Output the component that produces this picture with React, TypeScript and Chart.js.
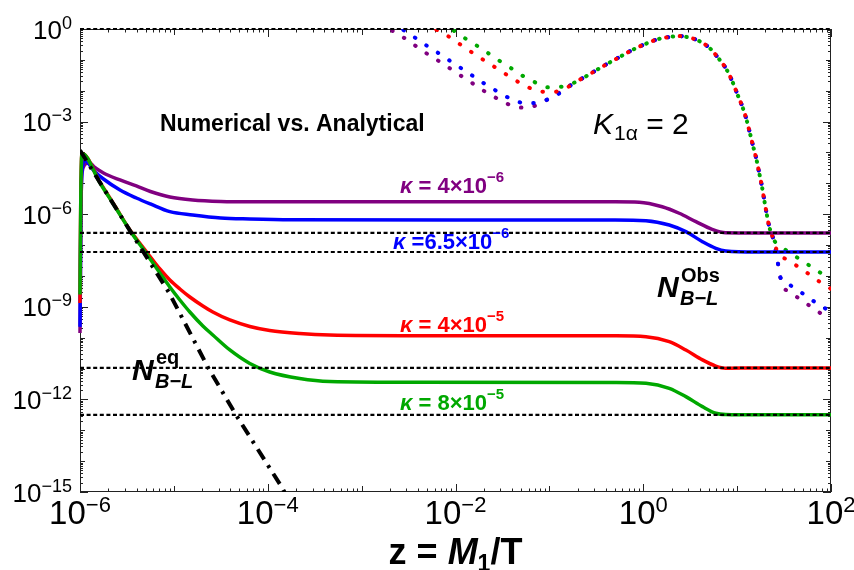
import React, { useEffect, useRef } from "react";
import { Chart, registerables } from "chart.js";

Chart.register(...registerables);

// ---------- axes ----------
const X_MIN = 1e-6;
const X_MAX = 1e2;
const Y_MIN = 1e-15;
const Y_MAX = 1;
const xLabelExps = [-6, -4, -2, 0, 2];
const yLabelExps = [0, -3, -6, -9, -12, -15];

// ---------- observed asymptotes (horizontal dotted lines) ----------
const obsLevels = [1, 2.47e-7, 5.97e-8, 1.05e-11, 3.16e-13];

// ---------- numerical solutions: log10 z, log10 N ----------
const purpleLgZ = [-6, -5.995, -5.99, -5.985, -5.975, -5.96, -5.94, -5.894, -5.85, -5.75, -5.574, -5.4, -5.25, -5.043, -4.8, -4.5, -4.191, -3.0, -1.5, -0.3, -0.043, 0.202, 0.383, 0.561, 0.734, 0.879, 1.2, 2.0];
const purpleLgN = [-9.85, -8.0, -6.0, -5.0, -4.6, -4.45, -4.37, -4.34, -4.47, -4.665, -4.891, -5.086, -5.264, -5.442, -5.539, -5.588, -5.6, -5.6, -5.6, -5.6, -5.61, -5.757, -5.97, -6.242, -6.489, -6.599, -6.608, -6.608];

const blueLgZ = [-6, -5.995, -5.99, -5.982, -5.97, -5.947, -5.85, -5.75, -5.574, -5.4, -5.25, -5.043, -4.8, -4.5, -4.191, -3.75, -2.0, -0.3, 0.029, 0.277, 0.454, 0.631, 0.773, 0.879, 1.2, 2.0];
const blueLgN = [-9.65, -7.5, -5.8, -4.8, -4.4, -4.266, -4.6, -4.859, -5.215, -5.475, -5.669, -5.918, -6.025, -6.122, -6.155, -6.181, -6.19, -6.19, -6.21, -6.349, -6.566, -6.89, -7.104, -7.19, -7.224, -7.224];

const redLgZ = [-6, -5.995, -5.99, -5.985, -5.978, -5.787, -5.628, -5.468, -5.29, -5.149, -5.043, -4.936, -4.83, -4.691, -4.585, -4.404, -4.191, -3.979, -3.66, -3.34, -2.383, -0.3, 0.029, 0.277, 0.454, 0.631, 0.773, 0.879, 1.2, 2.0];
const redLgN = [-8.88, -6.5, -5.0, -4.3, -4.03, -4.969, -5.734, -6.511, -7.224, -7.775, -8.131, -8.422, -8.682, -8.973, -9.168, -9.427, -9.637, -9.767, -9.864, -9.913, -9.935, -9.94, -9.968, -10.13, -10.4, -10.72, -10.92, -10.99, -10.98, -10.98];

const greenLgZ = [-6, -5.995, -5.99, -5.985, -5.978, -5.787, -5.628, -5.468, -5.29, -5.149, -5.043, -4.936, -4.83, -4.691, -4.585, -4.404, -4.191, -3.979, -3.66, -3.34, -2.383, -0.3, 0.029, 0.277, 0.454, 0.631, 0.773, 0.879, 1.2, 2.0];
const greenLgN = [-8.6, -6.5, -5.0, -4.3, -4.03, -4.989, -5.75, -6.527, -7.289, -7.904, -8.358, -8.779, -9.168, -9.621, -9.913, -10.399, -10.836, -11.111, -11.322, -11.419, -11.445, -11.45, -11.477, -11.64, -11.91, -12.235, -12.45, -12.49, -12.5, -12.5];

// ---------- equilibrium N_eq (dash-dot) ----------
const eqLgZ = [-6, -5.7, -5.45, -5.05, -4.635, -4.34, -3.851, -3.75];
const eqLgN = [-3.93, -5.4, -6.62, -8.55, -10.972, -12.494, -14.84, -15.4];

// ---------- analytical solutions (dotted) ----------
const purpleAnHeadLgZ = [-2.8, -2.723, -2.596, -2.471, -2.354, -2.234, -2.114, -1.993, -1.872, -1.755, -1.638, -1.503, -1.372, -1.231, -1.096, -0.96, -0.84];
const purpleAnHeadLgN = [0.17, 0.03, -0.194, -0.444, -0.703, -0.93, -1.166, -1.416, -1.652, -1.889, -2.115, -2.332, -2.517, -2.549, -2.407, -2.18, -1.95];
const blueAnHeadLgZ = [-2.68, -2.596, -2.471, -2.354, -2.234, -2.114, -1.993, -1.872, -1.755, -1.638, -1.503, -1.383, -1.248, -1.099, -0.971, -0.848];
const blueAnHeadLgN = [0.19, 0.04, -0.194, -0.444, -0.68, -0.917, -1.166, -1.403, -1.652, -1.869, -2.115, -2.3, -2.407, -2.365, -2.213, -1.999];
const redAnHeadLgZ = [-2.33, -2.245, -2.11, -1.993, -1.876, -1.755, -1.635, -1.514, -1.39, -1.266, -1.135, -0.993, -0.858];
const redAnHeadLgN = [0.19, 0.04, -0.172, -0.411, -0.658, -0.897, -1.134, -1.361, -1.61, -1.824, -1.999, -2.041, -1.976];
const greenAnHeadLgZ = [-2.14, -2.06, -1.993, -1.872, -1.755, -1.635, -1.514, -1.39, -1.269, -1.142, -1.007, -0.865];
const greenAnHeadLgN = [0.19, 0.03, -0.107, -0.356, -0.573, -0.82, -1.069, -1.305, -1.545, -1.74, -1.889, -1.869];

const commonAnLgZ = [-0.727, -0.603, -0.479, -0.354, -0.227, -0.103, 0.029, 0.163, 0.305, 0.376, 0.447, 0.588, 0.71, 0.801, 0.886, 0.95, 1.003, 1.056, 1.099, 1.135, 1.17, 1.205, 1.234, 1.263, 1.287, 1.312, 1.34, 1.383];
const commonAnLgN = [-1.727, -1.523, -1.296, -1.079, -0.865, -0.658, -0.476, -0.324, -0.249, -0.228, -0.249, -0.379, -0.625, -0.949, -1.305, -1.707, -2.115, -2.517, -2.925, -3.359, -3.79, -4.211, -4.642, -5.076, -5.507, -5.938, -6.372, -6.78];

const greenAnTailLgZ = [1.42, 1.482, 1.599, 1.723, 1.844, 1.961, 2.0];
const greenAnTailLgN = [-6.95, -7.085, -7.321, -7.571, -7.807, -8.056, -8.131];
const redAnTailLgZ = [1.41, 1.43, 1.524, 1.649, 1.766, 1.886, 2.0];
const redAnTailLgN = [-7.05, -7.25, -7.46, -7.7, -7.946, -8.205, -8.42];
const blueAnTailLgZ = [1.42, 1.457, 1.5, 1.578, 1.695, 1.812, 1.936, 2.0];
const blueAnTailLgN = [-7.3, -8.0, -8.17, -8.325, -8.562, -8.811, -9.048, -9.17];
const purpleAnTailLgZ = [1.42, 1.46, 1.49, 1.55, 1.631, 1.748, 1.872, 1.986, 2.0];
const purpleAnTailLgN = [-7.3, -8.05, -8.35, -8.5, -8.672, -8.918, -9.177, -9.404, -9.43];

// ---------- colours ----------
const PURPLE = "#800080";
const BLUE = "#0000ff";
const RED = "#ff0000";
const GREEN = "#00a800";

const FONT = '"Liberation Sans", Arial, sans-serif';

const pts = (lz: number[], ln: number[]) => lz.map((v, i) => ({ x: Math.pow(10, v), y: Math.pow(10, ln[i]) }));
const analytic = (hz: number[], hn: number[], tz: number[], tn: number[]) =>
  pts([...hz, ...commonAnLgZ, ...tz], [...hn, ...commonAnLgN, ...tn]);

type Seg = { t: string; font: string; dy?: number; dx?: number };
function rich(ctx: CanvasRenderingContext2D, x: number, y: number, segs: Seg[], align: "left" | "center" | "right", color = "#000") {
  ctx.textAlign = "left";
  ctx.textBaseline = "alphabetic";
  ctx.fillStyle = color;
  let w = 0;
  for (const s of segs) {
    ctx.font = s.font;
    w += ctx.measureText(s.t).width + (s.dx || 0);
  }
  let cx = align === "center" ? x - w / 2 : align === "right" ? x - w : x;
  for (const s of segs) {
    ctx.font = s.font;
    cx += s.dx || 0;
    ctx.fillText(s.t, cx, y + (s.dy || 0));
    cx += ctx.measureText(s.t).width;
  }
}

const expText = (e: number) => (e < 0 ? "\u2212" + String(-e) : String(e));

const framePlugin = {
  id: "mmaFrame",
  beforeDatasetsDraw(chart: any) {
    const { ctx, chartArea: a, scales } = chart;
    const xs = scales.x;
    const ys = scales.y;
    ctx.save();
    ctx.strokeStyle = "#222";
    ctx.lineWidth = 1;
    ctx.strokeRect(a.left + 0.5, a.top + 0.5, a.right - a.left - 1, a.bottom - a.top - 1);
    ctx.beginPath();
    const xe0 = Math.round(Math.log10(X_MIN));
    const xe1 = Math.round(Math.log10(X_MAX));
    for (let e = xe0; e <= xe1; e++) {
      for (let m = 1; m <= 9; m++) {
        if (e === xe1 && m > 1) break;
        const px = Math.round(xs.getPixelForValue(m * Math.pow(10, e))) + 0.5;
        const len = m === 1 ? (xLabelExps.includes(e) ? 8 : 6) : 3.5;
        ctx.moveTo(px, a.bottom);
        ctx.lineTo(px, a.bottom - len);
        ctx.moveTo(px, a.top);
        ctx.lineTo(px, a.top + len);
      }
    }
    const ye0 = Math.round(Math.log10(Y_MIN));
    const ye1 = Math.round(Math.log10(Y_MAX));
    for (let e = ye0; e <= ye1; e++) {
      for (let m = 1; m <= 9; m++) {
        if (e === ye1 && m > 1) break;
        const py = Math.round(ys.getPixelForValue(m * Math.pow(10, e))) + 0.5;
        const len = m === 1 ? (yLabelExps.includes(e) ? 8 : 5) : 3;
        ctx.moveTo(a.left, py);
        ctx.lineTo(a.left + len, py);
        ctx.moveTo(a.right, py);
        ctx.lineTo(a.right - len, py);
      }
    }
    ctx.stroke();

    // tick labels
    for (const e of yLabelExps) {
      const py = ys.getPixelForValue(Math.pow(10, e));
      rich(ctx, a.left - 8, py + 9.5, [
        { t: "10", font: `26px ${FONT}` },
        { t: expText(e), font: `18px ${FONT}`, dy: -10 },
      ], "right");
    }
    for (const e of xLabelExps) {
      const px = xs.getPixelForValue(Math.pow(10, e));
      rich(ctx, px, a.bottom + 32, [
        { t: "10", font: `33px ${FONT}` },
        { t: expText(e), font: `22px ${FONT}`, dy: -12 },
      ], "center");
    }
    // axis title
    rich(ctx, (a.left + a.right) / 2, 564, [
      { t: "z = ", font: `bold 36px ${FONT}` },
      { t: "M", font: `italic bold 36px ${FONT}` },
      { t: "1", font: `bold 23px ${FONT}`, dy: 7 },
      { t: "/T", font: `bold 36px ${FONT}` },
    ], "center");
    ctx.restore();
  },
  afterDatasetsDraw(chart: any) {
    const { ctx } = chart;
    ctx.save();
    rich(ctx, 160, 131, [{ t: "Numerical vs. Analytical", font: `bold 23px ${FONT}` }], "left");
    rich(ctx, 593, 134, [
      { t: "K", font: `italic 30px ${FONT}` },
      { t: "1\u03b1", font: `21px ${FONT}`, dy: 6, dx: 1 },
      { t: " = 2", font: `30px ${FONT}` },
    ], "left");
    const kappa = (x: number, y: number, body: string, exp: string, color: string) =>
      rich(ctx, x, y, [
        { t: "\u03ba", font: `italic bold 22px ${FONT}` },
        { t: body, font: `bold 22px ${FONT}` },
        { t: exp, font: `bold 15px ${FONT}`, dy: -11 },
      ], "left", color);
    kappa(400, 193, " = 4\u00d710", "\u22126", PURPLE);
    kappa(393, 249, " =6.5\u00d710", "\u22126", BLUE);
    kappa(400, 332, " = 4\u00d710", "\u22125", RED);
    kappa(400, 410, " = 8\u00d710", "\u22125", GREEN);

    // N_{B-L}^{Obs}
    rich(ctx, 657, 297, [{ t: "N", font: `italic bold 30px ${FONT}` }], "left");
    rich(ctx, 681, 282, [{ t: "Obs", font: `bold 20px ${FONT}` }], "left");
    rich(ctx, 680, 305, [{ t: "B\u2212L", font: `italic bold 20px ${FONT}` }], "left");
    // N_{B-L}^{eq}
    rich(ctx, 132, 380, [{ t: "N", font: `italic bold 30px ${FONT}` }], "left");
    rich(ctx, 156, 364, [{ t: "eq", font: `bold 20px ${FONT}` }], "left");
    rich(ctx, 155, 388, [{ t: "B\u2212L", font: `italic bold 20px ${FONT}` }], "left");
    ctx.restore();
  },
};

const solid = (label: string, data: any[], color: string, order: number) => ({
  label,
  data,
  borderColor: color,
  borderWidth: 3.5,
  pointRadius: 0,
  cubicInterpolationMode: "monotone" as const,
  order,
  clip: { left: 3, top: 0, right: 0, bottom: 0 },
});

const dotted = (label: string, data: any[], color: string, order: number) => ({
  label,
  data,
  borderColor: color,
  borderWidth: 4,
  borderDash: [0.5, 13.2],
  borderCapStyle: "round" as const,
  pointRadius: 0,
  cubicInterpolationMode: "monotone" as const,
  order,
});

export default function App() {
  const ref = useRef<HTMLCanvasElement>(null);
  useEffect(() => {
    const obsSets = obsLevels.map((v, i) => ({
      label: "obs" + i,
      data: [
        { x: X_MIN, y: v },
        { x: X_MAX, y: v },
      ],
      borderColor: "#000",
      borderWidth: 2.2,
      borderDash: [4, 2.6],
      pointRadius: 0,
      order: 0,
      clip: false as const,
    }));
    const chart = new Chart(ref.current as HTMLCanvasElement, {
      type: "line",
      data: {
        datasets: [
          ...obsSets,
          {
            label: "Neq",
            data: pts(eqLgZ, eqLgN),
            borderColor: "#000",
            borderWidth: 4,
            borderDash: [12, 7, 3, 7],
            pointRadius: 0,
            tension: 0,
            order: 1,
          },
          solid("k8e-5", pts(greenLgZ, greenLgN), GREEN, 2),
          solid("k4e-5", pts(redLgZ, redLgN), RED, 3),
          solid("k6.5e-6", pts(blueLgZ, blueLgN), BLUE, 4),
          solid("k4e-6", pts(purpleLgZ, purpleLgN), PURPLE, 5),
          dotted("a8e-5", analytic(greenAnHeadLgZ, greenAnHeadLgN, greenAnTailLgZ, greenAnTailLgN), GREEN, 6),
          dotted("a4e-5", analytic(redAnHeadLgZ, redAnHeadLgN, redAnTailLgZ, redAnTailLgN), RED, 7),
          dotted("a6.5e-6", analytic(blueAnHeadLgZ, blueAnHeadLgN, blueAnTailLgZ, blueAnTailLgN), BLUE, 8),
          dotted("a4e-6", analytic(purpleAnHeadLgZ, purpleAnHeadLgN, purpleAnTailLgZ, purpleAnTailLgN), PURPLE, 9),
        ] as any,
      },
      options: {
        animation: false,
        responsive: false,
        maintainAspectRatio: false,
        devicePixelRatio: 1,
        parsing: false as any,
        normalized: true,
        layout: { padding: { left: 80, right: 23, top: 29, bottom: 78 } },
        scales: {
          x: { type: "logarithmic", min: X_MIN, max: X_MAX, display: false },
          y: { type: "logarithmic", min: Y_MIN, max: Y_MAX, display: false },
        },
        plugins: {
          legend: { display: false },
          tooltip: { enabled: false },
        },
        elements: { point: { radius: 0 } },
      },
      plugins: [framePlugin],
    });
    return () => chart.destroy();
  }, []);
  return (
    <div style={{ position: "fixed", left: 0, top: 0, width: 854, height: 570, background: "#fff" }}>
      <canvas ref={ref} width={854} height={570} style={{ display: "block" }} />
    </div>
  );
}
